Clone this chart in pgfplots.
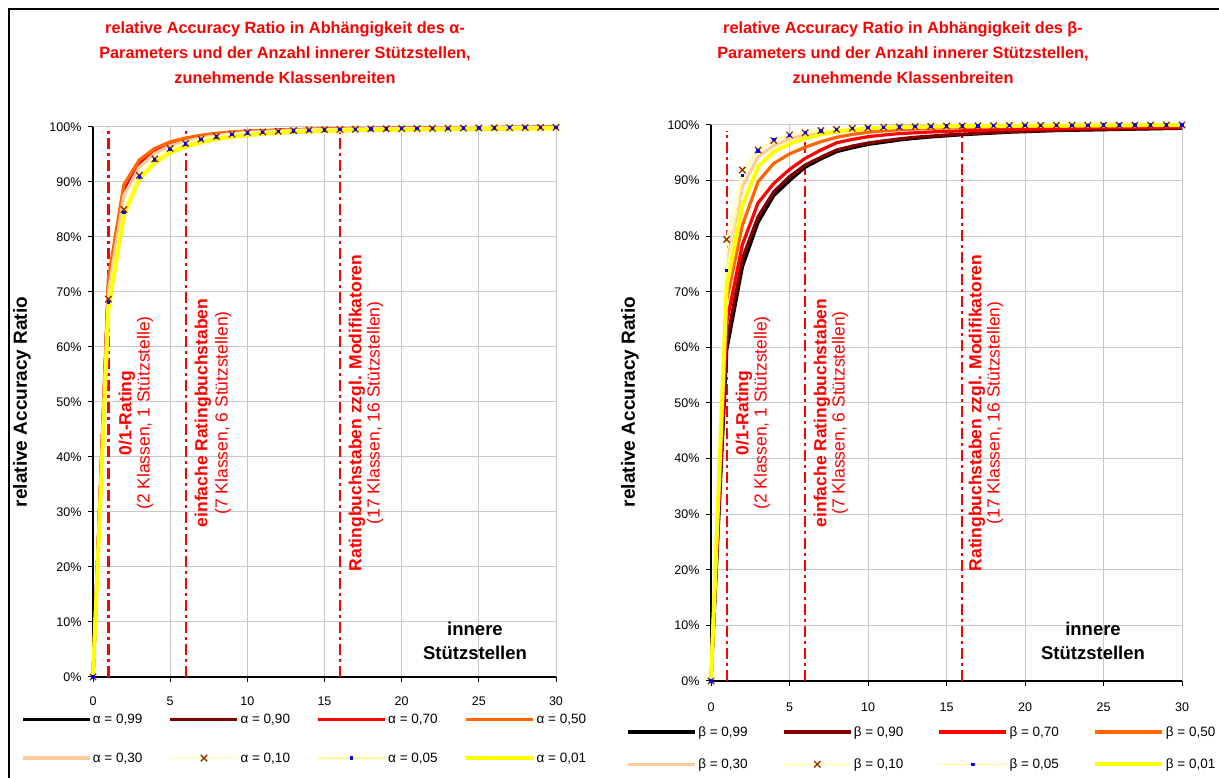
\documentclass[border=0pt]{standalone}
\usepackage{fontspec}
\setmainfont{Liberation Sans}
\usepackage{pgfplots}
\pgfplotsset{compat=1.18}
\definecolor{cBlack}{RGB}{0,0,0}
\definecolor{cDarkRed}{RGB}{128,0,0}
\definecolor{cRed}{RGB}{255,0,0}
\definecolor{cOrange}{RGB}{255,102,0}
\definecolor{cPeach}{RGB}{255,204,153}
\definecolor{cPale}{RGB}{255,255,204}
\definecolor{cLightY}{RGB}{255,255,153}
\definecolor{cYellow}{RGB}{255,255,0}
\definecolor{cMark}{RGB}{153,51,0}
\definecolor{cBlue}{RGB}{0,0,255}
\definecolor{cGrid}{RGB}{200,200,200}
\pgfplotsset{
  arbase/.style={
    scale only axis, xmin=0, xmax=30, ymin=0, ymax=100, clip=false,
    axis lines=left, axis line style={-, black, line width=1.3pt},
    xtick={0,5,...,30}, ytick={0,10,...,100},
    yticklabels={0\%,10\%,20\%,30\%,40\%,50\%,60\%,70\%,80\%,90\%,100\%},
    grid=major, major grid style={cGrid, line width=1pt},
    tick align=outside, major tick length=5pt, tick style={black, line width=1pt},
    tick label style={font=\fontsize{12.5}{15}\selectfont},
    /pgf/number format/assume math mode=true,
    yticklabel style={xshift=-3pt},
    legend columns=4,
    legend cell align=left,
    legend image code/.code={\draw[mark repeat=2,mark phase=2,#1] plot coordinates {(0pt,0pt) (33.5pt,0pt) (67pt,0pt)};},
    line join=round,
  },
  s99/.style={cBlack, line width=3.2pt, mark=none},
  s90/.style={cDarkRed, line width=3.2pt, mark=none},
  s70/.style={cRed, line width=3.2pt, mark=none},
  s50/.style={cOrange, line width=3.2pt, mark=none},
  s30/.style={cPeach, line width=3.2pt, mark=none},
  s10/.style={cPale, line width=2.5pt, mark=x, mark size=4.5pt, mark options={cMark, line width=1.4pt, solid}},
  s05/.style={cLightY, line width=1.2pt, mark=square*, mark size=1.1pt, mark options={cBlue, draw=cBlue, solid}},
  s01/.style={cYellow, line width=4pt, mark=none},
  vline/.style={cRed, line width=2.2pt, dash pattern=on 11pt off 4pt on 3pt off 4pt, forget plot},
}
\begin{document}
\begin{tikzpicture}[x=1pt,y=1pt]
\path[use as bounding box] (0,0) rectangle (1219,778);
\draw[line width=2pt] (9,-5) -- (9,769) -- (1225,769);
\coordinate (LA) at (93,101);
\coordinate (RA) at (711,97);
% ---------------- left chart ----------------
\begin{axis}[arbase, at={(LA)}, anchor=south west, width=463pt, height=550pt,
  xticklabel style={yshift=-11pt},
  legend style={at={(-0.162,-0.060)}, anchor=north west, draw=none, fill=none,
    font=\fontsize{13.5}{16}\selectfont, row sep=25pt,
    /tikz/every odd column/.append style={column sep=0pt},
    /tikz/every even column/.append style={column sep=25pt},
    nodes={inner sep=1.5pt}}]
\addplot[vline] coordinates {(1,0) (1,100)};
\addplot[vline] coordinates {(6,0) (6,100)};
\addplot[vline] coordinates {(16,0) (16,100)};
\addplot[s99] coordinates {(0,0) (1,70.5) (2,88.0) (3,93.0) (4,95.5) (5,96.8) (6,97.6) (7,98.2) (8,98.6) (9,98.9) (10,99.1) (11,99.25) (12,99.35) (13,99.45) (14,99.5) (15,99.55) (16,99.6) (17,99.65) (18,99.7) (19,99.72) (20,99.75) (21,99.77) (22,99.8) (23,99.82) (24,99.84) (25,99.86) (26,99.88) (27,99.9) (28,99.92) (29,99.94) (30,99.95)};
\addlegendentry{α = 0,99}
\addplot[s90] coordinates {(0,0) (1,71.0) (2,88.5) (3,93.3) (4,95.6) (5,96.9) (6,97.7) (7,98.3) (8,98.7) (9,98.95) (10,99.15) (11,99.28) (12,99.38) (13,99.47) (14,99.52) (15,99.57) (16,99.62) (17,99.66) (18,99.7) (19,99.73) (20,99.76) (21,99.78) (22,99.8) (23,99.82) (24,99.84) (25,99.86) (26,99.88) (27,99.9) (28,99.92) (29,99.94) (30,99.95)};
\addlegendentry{α = 0,90}
\addplot[s70] coordinates {(0,0) (1,71.5) (2,89.0) (3,93.6) (4,95.8) (5,97.0) (6,97.8) (7,98.35) (8,98.75) (9,99.0) (10,99.2) (11,99.3) (12,99.4) (13,99.5) (14,99.55) (15,99.6) (16,99.64) (17,99.68) (18,99.71) (19,99.74) (20,99.77) (21,99.79) (22,99.81) (23,99.83) (24,99.85) (25,99.87) (26,99.89) (27,99.91) (28,99.93) (29,99.94) (30,99.95)};
\addlegendentry{α = 0,70}
\addplot[s50] coordinates {(0,0) (1,72.5) (2,89.5) (3,94.0) (4,96.1) (5,97.3) (6,98.0) (7,98.5) (8,98.85) (9,99.1) (10,99.25) (11,99.35) (12,99.45) (13,99.52) (14,99.58) (15,99.62) (16,99.66) (17,99.7) (18,99.73) (19,99.76) (20,99.78) (21,99.8) (22,99.82) (23,99.84) (24,99.86) (25,99.88) (26,99.9) (27,99.92) (28,99.93) (29,99.94) (30,99.95)};
\addlegendentry{α = 0,50}
\addplot[s30] coordinates {(0,0) (1,70.0) (2,87.5) (3,92.7) (4,95.2) (5,96.6) (6,97.4) (7,98.0) (8,98.45) (9,98.8) (10,99.0) (11,99.15) (12,99.3) (13,99.4) (14,99.48) (15,99.54) (16,99.6) (17,99.64) (18,99.68) (19,99.72) (20,99.75) (21,99.77) (22,99.8) (23,99.82) (24,99.84) (25,99.86) (26,99.88) (27,99.9) (28,99.92) (29,99.94) (30,99.95)};
\addlegendentry{α = 0,30}
\addplot[s10] coordinates {(0,0) (1,68.7) (2,85.0) (3,91.2) (4,94.2) (5,96.1) (6,97.0) (7,97.8) (8,98.3) (9,98.7) (10,99.0) (11,99.1) (12,99.2) (13,99.35) (14,99.45) (15,99.5) (16,99.55) (17,99.6) (18,99.65) (19,99.68) (20,99.7) (21,99.73) (22,99.75) (23,99.78) (24,99.8) (25,99.82) (26,99.85) (27,99.87) (28,99.9) (29,99.92) (30,99.95)};
\addlegendentry{α = 0,10}
\addplot[s05] coordinates {(0,0) (1,68.2) (2,84.5) (3,90.9) (4,94.0) (5,95.9) (6,96.9) (7,97.7) (8,98.2) (9,98.6) (10,98.9) (11,99.05) (12,99.15) (13,99.3) (14,99.4) (15,99.45) (16,99.5) (17,99.55) (18,99.6) (19,99.65) (20,99.68) (21,99.7) (22,99.73) (23,99.76) (24,99.79) (25,99.81) (26,99.84) (27,99.86) (28,99.88) (29,99.9) (30,99.93)};
\addlegendentry{α = 0,05}
\addplot[s01] coordinates {(0,0) (1,67.0) (2,84.0) (3,90.5) (4,93.5) (5,95.3) (6,96.4) (7,97.2) (8,97.8) (9,98.2) (10,98.5) (11,98.75) (12,98.95) (13,99.1) (14,99.2) (15,99.3) (16,99.35) (17,99.4) (18,99.45) (19,99.5) (20,99.52) (21,99.55) (22,99.57) (23,99.6) (24,99.62) (25,99.64) (26,99.66) (27,99.68) (28,99.7) (29,99.72) (30,99.75)};
\addlegendentry{α = 0,01}
\end{axis}
% ---------------- right chart ----------------
\begin{axis}[arbase, at={(RA)}, anchor=south west, width=471pt, height=556pt,
  xticklabel style={yshift=-13pt},
  legend style={at={(-0.186,-0.075)}, anchor=north west, draw=none, fill=none,
    font=\fontsize{13.5}{16}\selectfont, row sep=18pt,
    /tikz/every odd column/.append style={column sep=0pt},
    /tikz/every even column/.append style={column sep=33pt},
    nodes={inner sep=1.5pt}}]
\addplot[vline] coordinates {(1,0) (1,99)};
\addplot[vline] coordinates {(6,0) (6,99)};
\addplot[vline] coordinates {(16,0) (16,99)};
\addplot[s99] coordinates {(0,0) (1,59.5) (2,74.5) (3,82.5) (4,87.3) (5,90.0) (6,92.4) (7,93.9) (8,95.2) (9,95.9) (10,96.5) (11,96.9) (12,97.3) (13,97.6) (14,97.85) (15,98.05) (16,98.25) (17,98.4) (18,98.55) (19,98.7) (20,98.8) (21,98.9) (22,99.0) (23,99.05) (24,99.1) (25,99.15) (26,99.2) (27,99.25) (28,99.3) (29,99.35) (30,99.4)};
\addlegendentry{β = 0,99}
\addplot[s90] coordinates {(0,0) (1,61.0) (2,76.0) (3,83.5) (4,88.0) (5,90.7) (6,92.8) (7,94.2) (8,95.5) (9,96.2) (10,96.75) (11,97.15) (12,97.5) (13,97.8) (14,98.0) (15,98.2) (16,98.35) (17,98.5) (18,98.65) (19,98.8) (20,98.9) (21,98.95) (22,99.05) (23,99.1) (24,99.15) (25,99.2) (26,99.25) (27,99.3) (28,99.35) (29,99.4) (30,99.45)};
\addlegendentry{β = 0,90}
\addplot[s70] coordinates {(0,0) (1,64.5) (2,78.5) (3,86.0) (4,89.5) (5,92.0) (6,94.0) (7,95.5) (8,96.8) (9,97.4) (10,97.9) (11,98.2) (12,98.45) (13,98.6) (14,98.75) (15,98.85) (16,98.95) (17,99.05) (18,99.15) (19,99.2) (20,99.25) (21,99.3) (22,99.35) (23,99.4) (24,99.45) (25,99.5) (26,99.52) (27,99.55) (28,99.58) (29,99.6) (30,99.65)};
\addlegendentry{β = 0,70}
\addplot[s50] coordinates {(0,0) (1,68.5) (2,82.0) (3,89.8) (4,93.1) (5,94.8) (6,96.0) (7,97.0) (8,97.8) (9,98.3) (10,98.7) (11,98.95) (12,99.15) (13,99.3) (14,99.4) (15,99.5) (16,99.55) (17,99.6) (18,99.65) (19,99.7) (20,99.72) (21,99.75) (22,99.77) (23,99.8) (24,99.82) (25,99.84) (26,99.86) (27,99.88) (28,99.9) (29,99.92) (30,99.94)};
\addlegendentry{β = 0,50}
\addplot[s30] coordinates {(0,0) (1,75.0) (2,88.9) (3,94.3) (4,96.3) (5,97.5) (6,98.2) (7,98.7) (8,99.05) (9,99.3) (10,99.45) (11,99.55) (12,99.62) (13,99.68) (14,99.73) (15,99.77) (16,99.8) (17,99.82) (18,99.84) (19,99.86) (20,99.88) (21,99.89) (22,99.9) (23,99.91) (24,99.92) (25,99.93) (26,99.94) (27,99.94) (28,99.95) (29,99.95) (30,99.96)};
\addlegendentry{β = 0,30}
\addplot[s10] coordinates {(0,0) (1,79.4) (2,91.9) (3,95.5) (4,97.2) (5,98.2) (6,98.6) (7,99.0) (8,99.2) (9,99.4) (10,99.5) (11,99.6) (12,99.65) (13,99.7) (14,99.75) (15,99.8) (16,99.82) (17,99.85) (18,99.87) (19,99.9) (20,99.92) (21,99.93) (22,99.94) (23,99.95) (24,99.96) (25,99.97) (26,99.97) (27,99.98) (28,99.98) (29,99.99) (30,100)};
\addlegendentry{β = 0,10}
\addplot[s05] coordinates {(0,0) (1,73.8) (2,90.9) (3,95.3) (4,97.4) (5,98.1) (6,98.6) (7,98.95) (8,99.2) (9,99.4) (10,99.5) (11,99.6) (12,99.65) (13,99.7) (14,99.75) (15,99.8) (16,99.82) (17,99.85) (18,99.87) (19,99.9) (20,99.92) (21,99.93) (22,99.94) (23,99.95) (24,99.96) (25,99.97) (26,99.97) (27,99.98) (28,99.98) (29,99.99) (30,100)};
\addlegendentry{β = 0,05}
\addplot[s01] coordinates {(0,0) (1,71.0) (2,85.5) (3,92.5) (4,95.2) (5,96.6) (6,97.6) (7,98.3) (8,98.8) (9,99.1) (10,99.35) (11,99.5) (12,99.6) (13,99.65) (14,99.7) (15,99.75) (16,99.78) (17,99.8) (18,99.83) (19,99.85) (20,99.87) (21,99.88) (22,99.9) (23,99.91) (24,99.92) (25,99.93) (26,99.94) (27,99.95) (28,99.96) (29,99.97) (30,99.98)};
\addlegendentry{β = 0,01}
\end{axis}
% ---------------- texts ----------------
\tikzset{
  ttl/.style={align=center, text=cRed, font=\bfseries\fontsize{16.3}{25}\selectfont},
  rb/.style={rotate=90, text=cRed, font=\bfseries\fontsize{17.5}{20}\selectfont, inner sep=0pt},
  rn/.style={rotate=90, text=cRed, font=\fontsize{17.5}{20}\selectfont, inner sep=0pt},
  yl/.style={rotate=90, font=\bfseries\fontsize{19}{22}\selectfont},
  inn/.style={align=center, font=\bfseries\fontsize{18.5}{24}\selectfont},
}
\node[ttl] at (285,725) {relative Accuracy Ratio in Abhängigkeit des α-\\Parameters und der Anzahl innerer Stützstellen,\\zunehmende Klassenbreiten};
\node[ttl] at (903,725) {relative Accuracy Ratio in Abhängigkeit des β-\\Parameters und der Anzahl innerer Stützstellen,\\zunehmende Klassenbreiten};
\node[yl] at (22,376) {relative Accuracy Ratio};
\node[yl] at (630,376) {relative Accuracy Ratio};
\node[inn] at (475,137) {innere\\Stützstellen};
\node[inn] at (1093,137) {innere\\Stützstellen};
% left annotations
\node[rb] at (127,365) {0/1-Rating};
\node[rn] at (145,365) {(2 Klassen, 1 Stützstelle)};
\node[rb] at (203,365) {einfache Ratingbuchstaben};
\node[rn] at (223,365) {(7 Klassen, 6 Stützstellen)};
\node[rb] at (357,365) {Ratingbuchstaben zzgl. Modifikatoren};
\node[rn] at (375,365) {(17 Klassen, 16 Stützstellen)};
% right annotations
\node[rb] at (744,365) {0/1-Rating};
\node[rn] at (762,365) {(2 Klassen, 1 Stützstelle)};
\node[rb] at (822,365) {einfache Ratingbuchstaben};
\node[rn] at (840,365) {(7 Klassen, 6 Stützstellen)};
\node[rb] at (977,365) {Ratingbuchstaben zzgl. Modifikatoren};
\node[rn] at (995,365) {(17 Klassen, 16 Stützstellen)};
\end{tikzpicture}
\end{document}
